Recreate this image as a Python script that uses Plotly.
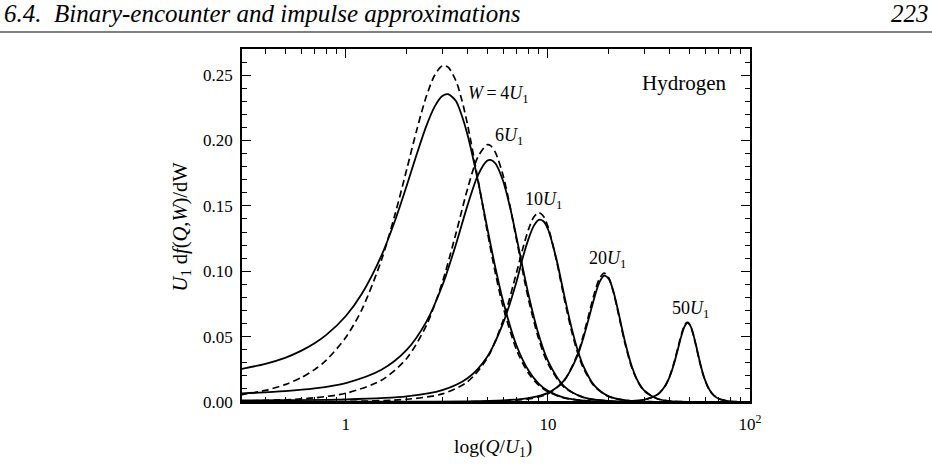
import plotly.graph_objects as go

# ---- data (Q/U1 on log axis, U1 df/dW) ----
q_w4 = [0.3, 0.4, 0.5, 0.6, 0.7, 0.8, 1.0, 1.2, 1.5, 1.75, 2, 2.25, 2.5, 2.75, 3, 3.2, 3.5, 3.75, 4, 4.5, 5, 5.5, 6, 7, 8, 9, 10, 12, 15, 20, 30, 100]
solid_w4 = [0.0251, 0.0292, 0.0338, 0.0391, 0.0449, 0.0513, 0.0658, 0.0828, 0.1120, 0.1386, 0.1654, 0.1902, 0.2110, 0.2259, 0.2340, 0.2354, 0.2304, 0.2189, 0.2044, 0.1695, 0.1337, 0.1024, 0.0771, 0.0430, 0.0243, 0.0141, 0.0085, 0.0034, 0.0011, 0.0002, 0.0, 0.0]
dashed_w4 = [0.0054, 0.0089, 0.0133, 0.0186, 0.0248, 0.0320, 0.0495, 0.0707, 0.1086, 0.1433, 0.1778, 0.2089, 0.2336, 0.2499, 0.2570, 0.2562, 0.2459, 0.2309, 0.2122, 0.1706, 0.1312, 0.0983, 0.0727, 0.0397, 0.0222, 0.0129, 0.0078, 0.0032, 0.0011, 0.0003, 0.0, 0.0]

q_w6 = [0.3, 0.5, 0.7, 1, 1.5, 2, 2.5, 3, 3.5, 4, 4.5, 5, 5.2, 5.5, 6, 6.5, 7, 8, 9, 10, 12, 15, 20, 30, 100]
solid_w6 = [0.0065, 0.0083, 0.0104, 0.0145, 0.0246, 0.0398, 0.0613, 0.0889, 0.1202, 0.1504, 0.1734, 0.1845, 0.1852, 0.1824, 0.1690, 0.1487, 0.1255, 0.0826, 0.0514, 0.0315, 0.0122, 0.0035, 0.0007, 0.0001, 0.0]
dashed_w6 = [0.0007, 0.0017, 0.0032, 0.0067, 0.0166, 0.0333, 0.0585, 0.0914, 0.1285, 0.1630, 0.1874, 0.1968, 0.1961, 0.1908, 0.1733, 0.1493, 0.1238, 0.0790, 0.0483, 0.0293, 0.0114, 0.0034, 0.0007, 0.0001, 0.0]

q_w10 = [0.3, 0.5, 1, 2, 3, 4, 5, 6, 7, 7.5, 8, 8.5, 9, 9.5, 10, 11, 12, 13, 14, 15, 17, 20, 25, 30, 100]
solid_w10 = [0.0012, 0.0014, 0.0020, 0.0043, 0.0090, 0.0181, 0.0344, 0.0603, 0.0924, 0.1102, 0.1244, 0.1345, 0.1393, 0.1383, 0.1323, 0.1098, 0.0827, 0.0586, 0.0402, 0.0272, 0.0125, 0.0043, 0.0010, 0.0003, 0.0]
dashed_w10 = [0.0001, 0.0001, 0.0004, 0.0021, 0.0062, 0.0155, 0.0333, 0.0624, 0.0993, 0.1171, 0.1317, 0.1413, 0.1448, 0.1421, 0.1342, 0.1088, 0.0803, 0.0561, 0.0381, 0.0257, 0.0119, 0.0042, 0.0010, 0.0003, 0.0]

q_w20 = [0.3, 1, 2, 4, 6, 8, 10, 12, 14, 15, 16, 17, 18, 19, 20, 21, 22, 23, 24, 26, 28, 30, 35, 40, 50, 100]
solid_w20 = [0.0001, 0.0002, 0.0002, 0.0005, 0.0013, 0.0030, 0.0070, 0.0164, 0.0355, 0.0494, 0.0651, 0.0802, 0.0917, 0.0966, 0.0942, 0.0856, 0.0731, 0.0596, 0.0469, 0.0273, 0.0153, 0.0087, 0.0023, 0.0007, 0.0001, 0.0]
dashed_w20 = [0.0, 0.0, 0.0, 0.0002, 0.0008, 0.0023, 0.0063, 0.0161, 0.0365, 0.0514, 0.0679, 0.0834, 0.0945, 0.0986, 0.0949, 0.0851, 0.0720, 0.0582, 0.0455, 0.0262, 0.0148, 0.0084, 0.0023, 0.0008, 0.0001, 0.0]

q_w50 = [0.3, 10, 20, 25, 30, 35, 38, 40, 42, 44, 45, 46, 47, 48, 49, 50, 51, 52, 54, 56, 58, 60, 63, 66, 70, 80, 90, 100]
solid_w50 = [0.0, 0.0, 0.0002, 0.0006, 0.0018, 0.0059, 0.0122, 0.0192, 0.0289, 0.0406, 0.0465, 0.0519, 0.0563, 0.0592, 0.0605, 0.0598, 0.0575, 0.0538, 0.0438, 0.0331, 0.0237, 0.0165, 0.0093, 0.0053, 0.0025, 0.0005, 0.0001, 0.0]
dashed_w50 = [0.0, 0.0, 0.0001, 0.0004, 0.0016, 0.0058, 0.0123, 0.0195, 0.0296, 0.0416, 0.0476, 0.0530, 0.0572, 0.0600, 0.0609, 0.0600, 0.0574, 0.0534, 0.0432, 0.0324, 0.0231, 0.0161, 0.0091, 0.0052, 0.0025, 0.0005, 0.0002, 0.0001]

curve_labels = ["<i>W</i>\u2009=\u20094<i>U</i><sub>1</sub>", "6<i>U</i><sub>1</sub>", "10<i>U</i><sub>1</sub>",
                "20<i>U</i><sub>1</sub>", "50<i>U</i><sub>1</sub>"]
x_tickvals = [1, 10, 100]
x_ticktext = ["1", "10", "10<sup>2</sup>"]
x_minor = [0.4, 0.5, 0.6, 0.7, 0.8, 0.9, 2, 3, 4, 5, 6, 7, 8, 9, 20, 30, 40, 50, 60, 70, 80, 90]

FONT = "Liberation Serif"
fig = go.Figure()

series = [
    (q_w4, solid_w4, dashed_w4),
    (q_w6, solid_w6, dashed_w6),
    (q_w10, solid_w10, dashed_w10),
    (q_w20, solid_w20, dashed_w20),
    (q_w50, solid_w50, dashed_w50),
]
for q, s, d in series:
    fig.add_trace(go.Scatter(x=q, y=d, mode="lines", line=dict(color="black", width=1.7, dash="7px,4px", shape="spline", smoothing=0.8), showlegend=False))
    fig.add_trace(go.Scatter(x=q, y=s, mode="lines", line=dict(color="black", width=1.8, shape="spline", smoothing=0.8), showlegend=False))

# curve labels (x in log10 units)
label_pos = [(0.596, 0.2352), (0.727, 0.2034), (0.875, 0.154), (1.191, 0.1088), (1.603, 0.0710)]
for txt, (lx, ly) in zip(curve_labels, label_pos):
    fig.add_annotation(x=lx, y=ly, xref="x", yref="y", text=txt, showarrow=False,
                       xanchor="left", yanchor="middle", font=dict(family=FONT, size=18, color="black"))

fig.add_annotation(x=1.889, y=0.244, xref="x", yref="y", text="Hydrogen", showarrow=False,
                   xanchor="right", yanchor="middle", font=dict(family=FONT, size=21, color="black"))

# axis titles
fig.add_annotation(x=(492.5-242)/508, y=(402-448)/353, xref="paper", yref="paper", text="log(<i>Q</i>/<i>U</i><sub>1</sub>)",
                   showarrow=False, xanchor="center", yanchor="middle", font=dict(family=FONT, size=19.5, color="black"))
fig.add_annotation(x=(181.7-242)/508, y=(402-226.7)/353, xref="paper", yref="paper",
                   text="<i>U</i><sub>1</sub> d<i>f</i>(<i>Q</i>,<i>W</i>)/dW",
                   showarrow=False, textangle=-90, xanchor="center", yanchor="middle",
                   font=dict(family=FONT, size=20.5, color="black"))

# page header
fig.add_annotation(x=-240/508, y=(402-14)/353, xref="paper", yref="paper",
                   text="<i>6.4.  Binary-encounter and impulse approximations</i>", showarrow=False,
                   xanchor="left", yanchor="middle", font=dict(family=FONT, size=25, color="black"))
fig.add_annotation(x=(931-242)/508, y=(402-14)/353, xref="paper", yref="paper",
                   text="<i>223</i>", showarrow=False,
                   xanchor="right", yanchor="middle", font=dict(family=FONT, size=25, color="black"))
fig.add_shape(type="line", xref="paper", yref="paper", x0=-242/508, x1=(932-242)/508,
              y0=(402-32)/353, y1=(402-32)/353, line=dict(color="#555555", width=1.5))

fig.update_xaxes(type="log", range=[-0.514, 2.0], tickmode="array", tickvals=x_tickvals, ticktext=x_ticktext,
                 ticks="inside", ticklen=9, tickwidth=1.2, tickcolor="black", mirror="allticks",
                 showline=True, linecolor="black", linewidth=1.5, showgrid=False, zeroline=False,
                 ticklabelstandoff=6,
                 tickfont=dict(family=FONT, size=17, color="black"),
                 minor=dict(tickmode="array", tickvals=x_minor, ticks="inside", ticklen=5, tickwidth=1, tickcolor="black", showgrid=False))
fig.update_yaxes(range=[0, 0.27], tickmode="linear", tick0=0, dtick=0.05, tickformat=".2f",
                 ticks="inside", ticklen=9, tickwidth=1.2, tickcolor="black", mirror="allticks",
                 showline=True, linecolor="black", linewidth=1.5, showgrid=False, zeroline=False,
                 ticklabelstandoff=4,
                 tickfont=dict(family=FONT, size=17, color="black"),
                 minor=dict(dtick=0.01, ticks="inside", ticklen=5, tickwidth=1, tickcolor="black", showgrid=False))

fig.update_layout(width=932, height=465, margin=dict(l=242, r=182, t=49, b=63),
                  plot_bgcolor="white", paper_bgcolor="white", showlegend=False)

fig.write_html("out.html")
